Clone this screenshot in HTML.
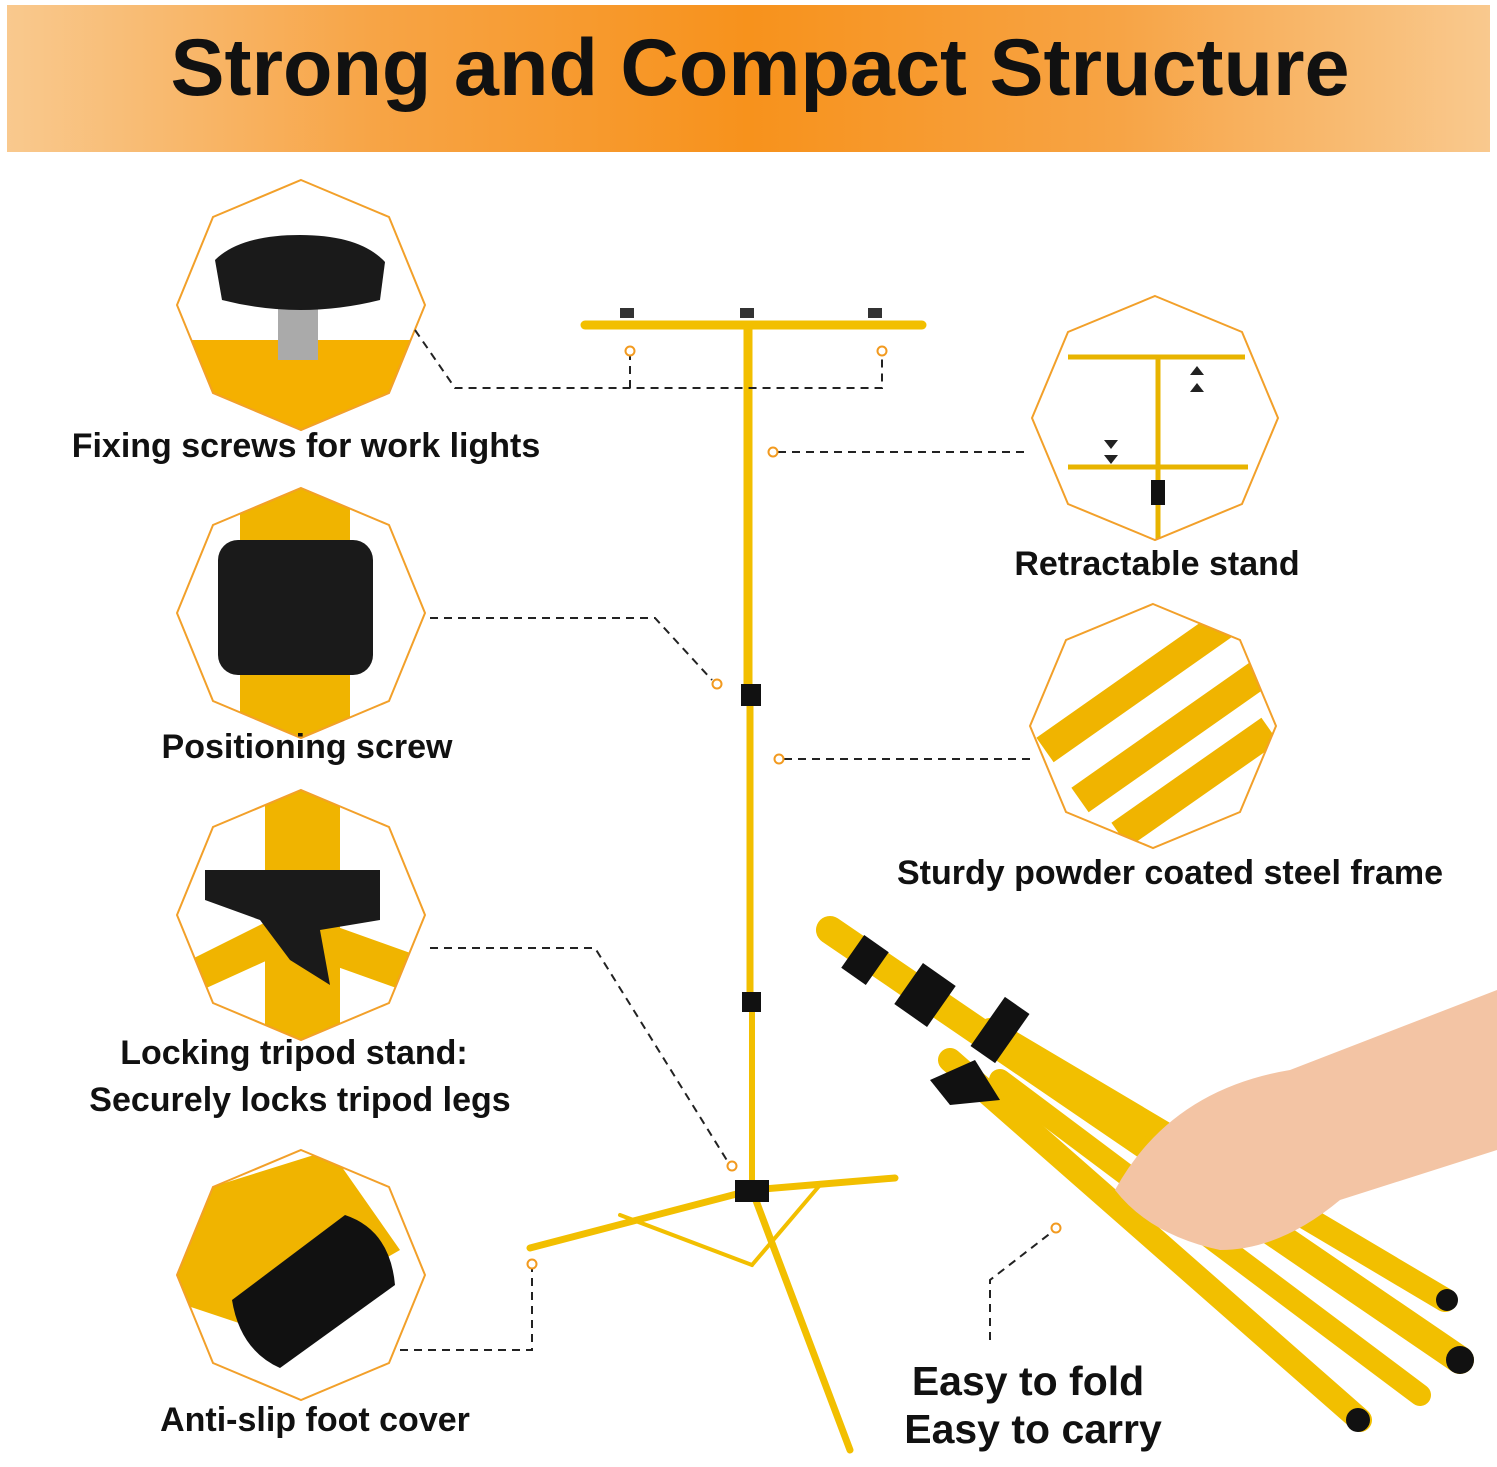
<!DOCTYPE html>
<html><head><meta charset="utf-8"><style>
html,body{margin:0;padding:0;background:#fff;}
svg{display:block}
text{font-family:"Liberation Sans",sans-serif;font-weight:bold;fill:#111}
</style></head><body>
<svg width="1497" height="1467" viewBox="0 0 1497 1467" xmlns="http://www.w3.org/2000/svg">
<defs>
<linearGradient id="hg" x1="0" x2="1" y1="0" y2="0">
<stop offset="0" stop-color="#f9c98e"/><stop offset="0.25" stop-color="#f7a445"/>
<stop offset="0.5" stop-color="#f7921c"/><stop offset="0.75" stop-color="#f7a445"/>
<stop offset="1" stop-color="#f9c98e"/></linearGradient>
<clipPath id="o1"><polygon points="301,180 389,217 425,305 389,393 301,430 213,393 177,305 213,217"/></clipPath>
<clipPath id="o2"><polygon points="301,488 389,525 425,613 389,701 301,738 213,701 177,613 213,525"/></clipPath>
<clipPath id="o3"><polygon points="301,790 389,827 425,915 389,1003 301,1040 213,1003 177,915 213,827"/></clipPath>
<clipPath id="o4"><polygon points="301,1150 389,1187 425,1275 389,1363 301,1400 213,1363 177,1275 213,1187"/></clipPath>
<clipPath id="o5"><polygon points="1155,296 1242,332 1278,418 1242,504 1155,540 1068,504 1032,418 1068,332"/></clipPath>
<clipPath id="o6"><polygon points="1153,604 1240,640 1276,726 1240,812 1153,848 1066,812 1030,726 1066,640"/></clipPath>
</defs>
<rect x="7" y="5" width="1483" height="147" fill="url(#hg)"/>
<text x="760" y="95" font-size="81" text-anchor="middle">Strong and Compact Structure</text>

<g clip-path="url(#o1)">
<rect x="170" y="340" width="260" height="100" fill="#f5b000"/>
<rect x="278" y="300" width="40" height="60" fill="#aaa"/>
<path d="M215,260 Q240,235 300,235 Q360,235 385,262 L380,300 Q300,320 222,300 Z" fill="#1a1a1a"/>
</g>
<g clip-path="url(#o2)">
<rect x="240" y="480" width="110" height="270" fill="#f0b400"/>
<rect x="218" y="540" width="155" height="135" rx="20" fill="#1a1a1a"/>
</g>
<g clip-path="url(#o3)">
<rect x="265" y="780" width="75" height="270" fill="#f0b400"/>
<path d="M170,970 L290,910 L430,960 L430,1000 L290,950 L180,1000 Z" fill="#f0b400"/>
<path d="M205,870 L380,870 L380,920 L320,930 L330,985 L290,960 L260,920 L205,900 Z" fill="#1a1a1a"/>
</g>
<g clip-path="url(#o4)">
<path d="M170,1200 L330,1150 L400,1250 L260,1330 L170,1300 Z" fill="#f0b400"/>
<path d="M232,1300 L345,1215 Q390,1230 395,1285 L280,1368 Q240,1350 232,1300 Z" fill="#111"/>
</g>
<g clip-path="url(#o5)">
<g stroke="#e8b400" stroke-width="5"><line x1="1068" y1="357" x2="1245" y2="357"/><line x1="1068" y1="467" x2="1248" y2="467"/><line x1="1158" y1="357" x2="1158" y2="545"/></g>
<rect x="1151" y="480" width="14" height="25" fill="#111"/>
<g fill="#222"><polygon points="1190,375 1204,375 1197,366"/><polygon points="1190,392 1204,392 1197,383"/><polygon points="1104,440 1118,440 1111,449"/><polygon points="1104,455 1118,455 1111,464"/></g>
</g>
<g clip-path="url(#o6)">
<g stroke="#f0b400" stroke-width="30"><line x1="1045" y1="750" x2="1230" y2="620"/><line x1="1080" y1="800" x2="1265" y2="670"/><line x1="1120" y1="835" x2="1270" y2="730"/></g>
</g>
<g fill="none" stroke="#f2a02a" stroke-width="2">
<polygon points="301,180 389,217 425,305 389,393 301,430 213,393 177,305 213,217"/>
<polygon points="301,488 389,525 425,613 389,701 301,738 213,701 177,613 213,525"/>
<polygon points="301,790 389,827 425,915 389,1003 301,1040 213,1003 177,915 213,827"/>
<polygon points="301,1150 389,1187 425,1275 389,1363 301,1400 213,1363 177,1275 213,1187"/>
<polygon points="1155,296 1242,332 1278,418 1242,504 1155,540 1068,504 1032,418 1068,332"/>
<polygon points="1153,604 1240,640 1276,726 1240,812 1153,848 1066,812 1030,726 1066,640"/>
</g>

<g font-size="34">
<text x="306" y="457" text-anchor="middle">Fixing screws for work lights</text>
<text x="307" y="758" text-anchor="middle">Positioning screw</text>
<text x="294" y="1064" text-anchor="middle">Locking tripod stand:</text>
<text x="300" y="1111" text-anchor="middle">Securely locks tripod legs</text>
<text x="315" y="1431" text-anchor="middle">Anti-slip foot cover</text>
<text x="1157" y="575" text-anchor="middle">Retractable stand</text>
<text x="1170" y="884" text-anchor="middle">Sturdy powder coated steel frame</text>
</g>
<g font-size="41"><text x="1028" y="1395" text-anchor="middle">Easy to fold</text><text x="1033" y="1443" text-anchor="middle">Easy to carry</text></g>

<g stroke="#f2bf00" stroke-linecap="round">
<line x1="585" y1="325" x2="922" y2="325" stroke-width="9"/>
<line x1="748" y1="325" x2="748" y2="690" stroke-width="9"/>
<line x1="750" y1="690" x2="750" y2="1000" stroke-width="7"/>
<line x1="752" y1="1000" x2="752" y2="1190" stroke-width="6"/>
<line x1="752" y1="1190" x2="530" y2="1248" stroke-width="7"/>
<line x1="752" y1="1190" x2="895" y2="1178" stroke-width="7"/>
<line x1="752" y1="1190" x2="850" y2="1450" stroke-width="7"/>
<line x1="752" y1="1265" x2="620" y2="1215" stroke-width="4"/>
<line x1="752" y1="1265" x2="820" y2="1185" stroke-width="4"/>
</g>
<rect x="741" y="684" width="20" height="22" fill="#111"/>
<rect x="742" y="992" width="19" height="20" fill="#111"/>
<rect x="735" y="1180" width="34" height="22" fill="#111"/>
<g fill="#333"><rect x="620" y="308" width="14" height="10"/><rect x="740" y="308" width="14" height="10"/><rect x="868" y="308" width="14" height="10"/></g>

<g stroke="#f2bf00" stroke-linecap="round">
<line x1="830" y1="930" x2="1460" y2="1360" stroke-width="28"/>
<line x1="950" y1="1060" x2="1360" y2="1420" stroke-width="24"/>
<line x1="990" y1="1030" x2="1445" y2="1300" stroke-width="24"/>
<line x1="1000" y1="1080" x2="1420" y2="1395" stroke-width="22"/>
</g>
<g fill="#111"><rect x="850" y="940" width="30" height="40" transform="rotate(35 865 960)"/><rect x="905" y="970" width="40" height="50" transform="rotate(35 925 995)"/>
<rect x="985" y="1000" width="30" height="60" transform="rotate(35 1000 1030)"/><path d="M930,1080 L975,1060 L1000,1100 L950,1105 Z"/>
<circle cx="1460" cy="1360" r="14"/><circle cx="1358" cy="1420" r="12"/><circle cx="1447" cy="1300" r="11"/></g>
<path d="M1115,1190 Q1170,1090 1290,1070 L1497,990 L1497,1150 L1340,1200 Q1280,1250 1220,1250 Q1150,1235 1115,1190 Z" fill="#f3c4a4"/>

<g fill="none" stroke="#222" stroke-width="2" stroke-dasharray="8,6">
<path d="M415,330 L455,388 L882,388 L882,356"/><path d="M630,388 L630,356"/>
<path d="M778,452 L1030,452"/>
<path d="M430,618 L655,618 L712,680"/>
<path d="M784,759 L1032,759"/>
<path d="M430,948 L595,948 L728,1162"/>
<path d="M400,1350 L532,1350 L532,1268"/>
<path d="M990,1340 L990,1280 L1052,1232"/>
</g>
<g fill="#fff" stroke="#f29a1f" stroke-width="2">
<circle cx="630" cy="351" r="4.5"/><circle cx="882" cy="351" r="4.5"/><circle cx="773" cy="452" r="4.5"/>
<circle cx="717" cy="684" r="4.5"/><circle cx="779" cy="759" r="4.5"/><circle cx="732" cy="1166" r="4.5"/>
<circle cx="532" cy="1264" r="4.5"/><circle cx="1056" cy="1228" r="4.5"/></g>
</svg>
</body></html>
